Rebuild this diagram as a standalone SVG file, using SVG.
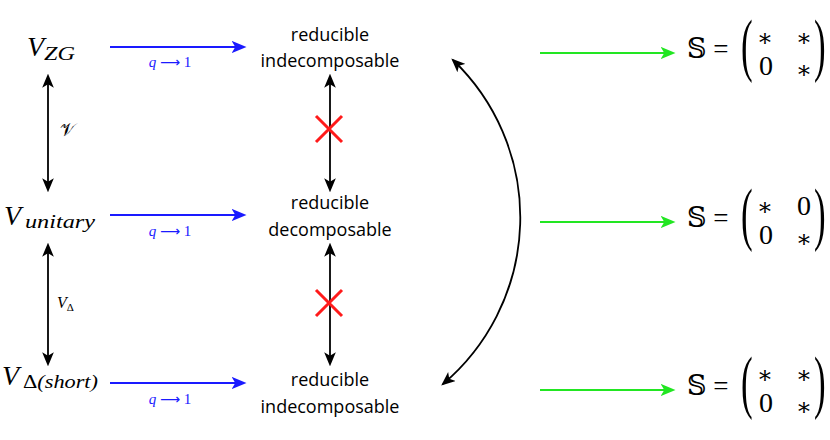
<svg xmlns="http://www.w3.org/2000/svg" width="830" height="440" viewBox="0 0 830 440">
<style>
.math{font-family:"Liberation Serif","DejaVu Serif",serif;font-style:italic;fill:#000}
.bigV{font-family:"Liberation Serif",serif;font-style:italic;font-size:28px;fill:#000}
.sub{font-family:"Liberation Serif",serif;font-style:italic;font-size:19px;fill:#000}
.node{font-family:"Open Sans","Noto Sans",sans-serif;font-size:18px;fill:#000;text-anchor:middle}
.lbl{font-family:"Liberation Serif",serif;font-size:15px;fill:#1a1aff;text-anchor:middle}
.mat{font-family:"Liberation Serif","DejaVu Serif",serif;font-size:27px;fill:#000}
.par{font-family:"Liberation Serif",serif;font-size:70px;fill:#000}
.st{font-family:"DejaVu Serif",serif;font-size:24px;fill:#000;text-anchor:middle}
.z{font-family:"Liberation Serif",serif;font-size:28px;fill:#000;text-anchor:middle}
.blk{stroke:#000;stroke-width:1.8;fill:none}
.blu{stroke:#1a1aff;stroke-width:1.8;fill:none}
.grn{stroke:#22e622;stroke-width:1.8;fill:none}
.x{stroke:#ff1a1a;stroke-width:3;fill:none}
</style>
<defs>
<marker id="abl" viewBox="0 0 12 10" refX="10" refY="5" markerWidth="15" markerHeight="13" orient="auto" markerUnits="userSpaceOnUse"><path d="M0,0 L12,5 L0,10 L3,5 z" fill="#1a1aff"/></marker>
<marker id="ag" viewBox="0 0 12 10" refX="10" refY="5" markerWidth="15" markerHeight="13" orient="auto" markerUnits="userSpaceOnUse"><path d="M0,0 L12,5 L0,10 L3,5 z" fill="#22e622"/></marker>
<marker id="ak" viewBox="0 0 12 10" refX="10" refY="5" markerWidth="14" markerHeight="12" orient="auto-start-reverse" markerUnits="userSpaceOnUse"><path d="M0,0 L12,5 L0,10 L3,5 z" fill="#000"/></marker>
</defs>

<g id="vzg"><text class="bigV" x="27" y="56">V</text><text class="sub" x="44" y="60" textLength="31" lengthAdjust="spacingAndGlyphs">ZG</text></g>
<g id="vunitary"><text class="bigV" x="4" y="225">V</text><text class="sub" x="25" y="228" textLength="70" lengthAdjust="spacingAndGlyphs">unitary</text></g>
<g id="vdelta"><text class="bigV" x="2" y="385">V</text><text class="sub" x="23" y="388" textLength="75" lengthAdjust="spacingAndGlyphs"><tspan font-style="normal">Δ</tspan>(short)</text></g>

<g id="n1"><text class="node" x="330" y="41">reducible</text><text class="node" x="330" y="67">indecomposable</text></g>
<g id="n2"><text class="node" x="330" y="209">reducible</text><text class="node" x="330" y="236">decomposable</text></g>
<g id="n3"><text class="node" x="330" y="386">reducible</text><text class="node" x="330" y="413">indecomposable</text></g>

<g id="s1">
<text class="mat" x="687" y="58">𝕊 =</text>
<text class="par" transform="translate(741 68) scale(0.5 1)" x="0" y="0">(</text>
<text class="par" transform="translate(814 68) scale(0.5 1)" x="0" y="0">)</text>
<text class="st" x="765" y="46">∗</text><text class="st" x="804" y="46">∗</text>
<text class="z" x="766" y="75">0</text><text class="st" x="804" y="78">∗</text>
</g>
<g id="s2">
<text class="mat" x="687" y="227">𝕊 =</text>
<text class="par" transform="translate(741 237) scale(0.5 1)" x="0" y="0">(</text>
<text class="par" transform="translate(814 237) scale(0.5 1)" x="0" y="0">)</text>
<text class="st" x="765" y="215">∗</text><text class="z" x="804" y="215">0</text>
<text class="z" x="766" y="244">0</text><text class="st" x="804" y="247">∗</text>
</g>
<g id="s3">
<text class="mat" x="687" y="395">𝕊 =</text>
<text class="par" transform="translate(741 405) scale(0.5 1)" x="0" y="0">(</text>
<text class="par" transform="translate(814 405) scale(0.5 1)" x="0" y="0">)</text>
<text class="st" x="765" y="383">∗</text><text class="st" x="804" y="383">∗</text>
<text class="z" x="766" y="412">0</text><text class="st" x="804" y="415">∗</text>
</g>

<g id="connectors">
<line class="blu" x1="110" y1="47" x2="244" y2="47" marker-end="url(#abl)"/>
<line class="blu" x1="110" y1="215" x2="244" y2="215" marker-end="url(#abl)"/>
<line class="blu" x1="110" y1="383" x2="244" y2="383" marker-end="url(#abl)"/>
<text class="lbl" x="170" y="67"><tspan font-style="italic">q</tspan> <tspan style="font-family:'DejaVu Sans',sans-serif;font-size:14px">⟶</tspan> 1</text>
<text class="lbl" x="170" y="236"><tspan font-style="italic">q</tspan> <tspan style="font-family:'DejaVu Sans',sans-serif;font-size:14px">⟶</tspan> 1</text>
<text class="lbl" x="170" y="404"><tspan font-style="italic">q</tspan> <tspan style="font-family:'DejaVu Sans',sans-serif;font-size:14px">⟶</tspan> 1</text>

<line class="grn" x1="540" y1="53" x2="673" y2="53" marker-end="url(#ag)"/>
<line class="grn" x1="540" y1="222" x2="673" y2="222" marker-end="url(#ag)"/>
<line class="grn" x1="540" y1="390" x2="673" y2="390" marker-end="url(#ag)"/>

<line class="blk" x1="48" y1="76" x2="48" y2="190" marker-start="url(#ak)" marker-end="url(#ak)"/>
<line class="blk" x1="48" y1="245" x2="48" y2="364" marker-start="url(#ak)" marker-end="url(#ak)"/>
<text x="60" y="136" style="font-family:'DejaVu Serif','DejaVu Sans',serif;font-size:18px;fill:#000">𝒱</text>
<text class="math" x="57" y="308" style="font-size:16px">V<tspan style="font-size:11px;font-style:normal" dy="3">Δ</tspan></text>

<line class="blk" x1="330" y1="76" x2="330" y2="190" marker-start="url(#ak)" marker-end="url(#ak)"/>
<line class="blk" x1="330" y1="245" x2="330" y2="364" marker-start="url(#ak)" marker-end="url(#ak)"/>

<path class="blk" d="M453,60 A218,218 0 0 1 443,384" marker-start="url(#ak)" marker-end="url(#ak)"/>
</g>
<g id="x1"><path class="x" d="M316,116 L342,142 M342,116 L316,142"/></g>
<g id="x2"><path class="x" d="M316,290 L342,316 M342,290 L316,316"/></g>
</svg>
